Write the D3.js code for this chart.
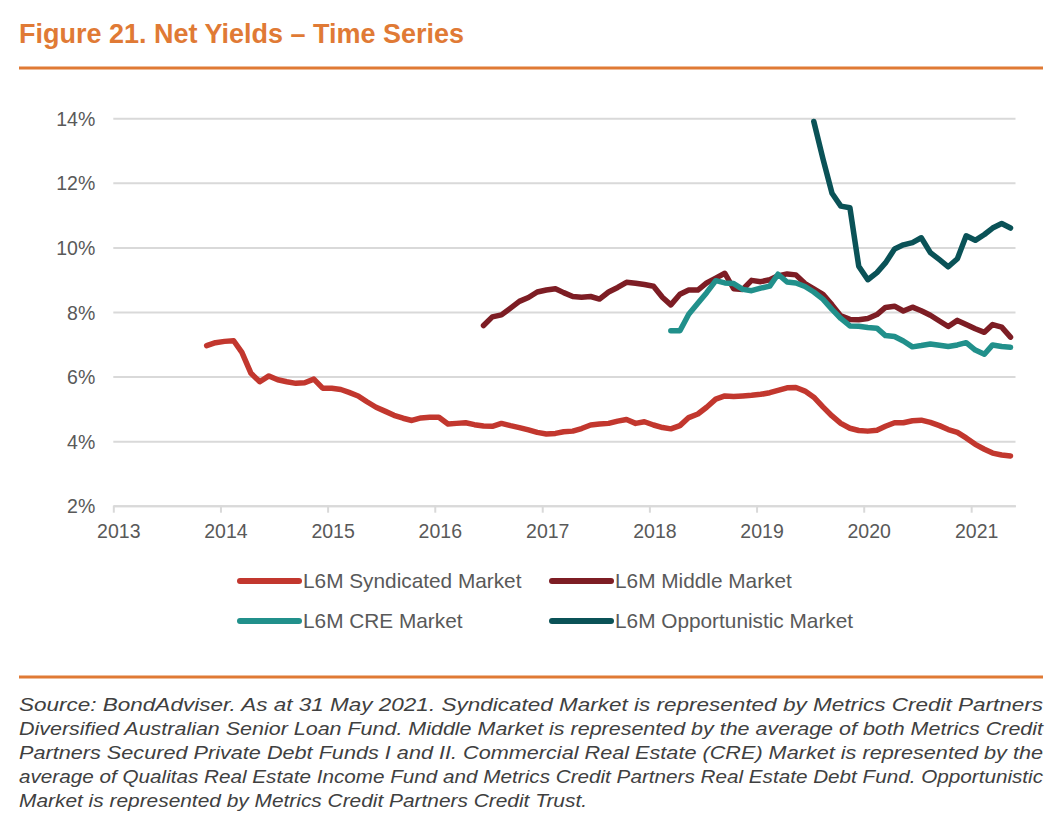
<!DOCTYPE html>
<html>
<head>
<meta charset="utf-8">
<script src="https://cdn.jsdelivr.net/npm/d3@7"></script>
<style>
  body { margin: 0; background: #fff; }
  svg { display: block; background: #fff; }
</style>
</head>
<body>
<svg width="1062" height="839"></svg>
<script>
// Monthly L6M net yields (%), each series starts at [year, month]
const syndicatedStart = [2013, 11];
const syndicated = [
  6.96, 7.05,
  7.09, 7.11, 6.75, 6.10, 5.84, 6.02, 5.90, 5.84, 5.79, 5.81, 5.92, 5.64,
  5.64, 5.60, 5.51, 5.40, 5.22, 5.05, 4.93, 4.80, 4.71, 4.64, 4.72, 4.74,
  4.74, 4.53, 4.55, 4.57, 4.51, 4.47, 4.46, 4.55, 4.48, 4.42, 4.35, 4.27,
  4.22, 4.24, 4.29, 4.31, 4.39, 4.50, 4.53, 4.55, 4.62, 4.67, 4.55, 4.60,
  4.50, 4.42, 4.38, 4.48, 4.73, 4.84, 5.05, 5.30, 5.40, 5.38, 5.40, 5.42,
  5.45, 5.50, 5.57, 5.65, 5.66, 5.55, 5.36, 5.06, 4.78, 4.55, 4.40, 4.33,
  4.31, 4.34, 4.46, 4.57, 4.57, 4.63, 4.65, 4.58, 4.48, 4.36, 4.27, 4.10,
  3.90, 3.75, 3.63, 3.57, 3.54
];

const middleStart = [2016, 6];
const middle = [
  7.58, 7.85, 7.91, 8.12, 8.33, 8.45, 8.62,
  8.68, 8.72, 8.60, 8.48, 8.46, 8.48, 8.40, 8.62, 8.76, 8.92, 8.89, 8.85,
  8.80, 8.45, 8.22, 8.55, 8.68, 8.68, 8.90, 9.05, 9.20, 8.72, 8.70, 8.98,
  8.94, 9.00, 9.12, 9.18, 9.15, 8.88, 8.72, 8.55, 8.22, 7.88, 7.77, 7.76,
  7.80, 7.92, 8.14, 8.18, 8.03, 8.15, 8.04, 7.90, 7.72, 7.55, 7.74, 7.61,
  7.48, 7.37, 7.61, 7.53, 7.22
];

const creStart = [2018, 3];
const cre = [
  7.42, 7.42, 7.93, 8.27, 8.60, 8.97, 8.90, 8.88, 8.70, 8.66,
  8.74, 8.80, 9.17, 8.93, 8.90, 8.79, 8.62, 8.40, 8.08, 7.80, 7.57, 7.56,
  7.52, 7.50, 7.27, 7.24, 7.10, 6.92, 6.96, 7.01, 6.97, 6.93, 6.98, 7.05,
  6.82, 6.69, 6.98, 6.93, 6.91
];

const opportunisticStart = [2019, 7];
const opportunistic = [
  13.90, 12.75, 11.68, 11.28, 11.23, 9.42,
  9.00, 9.22, 9.52, 9.95, 10.08, 10.15, 10.30, 9.84, 9.62, 9.40, 9.65, 10.36,
  10.22, 10.40, 10.60, 10.74, 10.60
];

const seriesNames = ["L6M Syndicated Market", "L6M Middle Market", "L6M CRE Market", "L6M Opportunistic Market"];
const seriesColors = ["#C2372E", "#7D1D24", "#21908B", "#0A5257"];
const yTicks = [2, 4, 6, 8, 10, 12, 14];
const yearTicks = [2013, 2014, 2015, 2016, 2017, 2018, 2019, 2020, 2021];

const footnote = [
  "Source: BondAdviser. As at 31 May 2021. Syndicated Market is represented by Metrics Credit Partners",
  "Diversified Australian Senior Loan Fund. Middle Market is represented by the average of both Metrics Credit",
  "Partners Secured Private Debt Funds I and II. Commercial Real Estate (CRE) Market is represented by the",
  "average of Qualitas Real Estate Income Fund and Metrics Credit Partners Real Estate Debt Fund. Opportunistic",
  "Market is represented by Metrics Credit Partners Credit Trust."
];

const orange = "#E07A35";
const grey = "#595959";
const sans = "'Liberation Sans', Arial, sans-serif";
const narrow = "'Liberation Sans Narrow', 'Arial Narrow', 'Liberation Sans', Arial, sans-serif";

// mid-month points (Excel date axis, "between tick marks")
function toPoints(start, values) {
  return values.map((v, i) => ({ date: new Date(start[0], start[1] - 1 + i, 15), value: v }));
}

const series = [
  toPoints(syndicatedStart, syndicated),
  toPoints(middleStart, middle),
  toPoints(creStart, cre),
  toPoints(opportunisticStart, opportunistic)
].map((pts, i) => ({ name: seriesNames[i], color: seriesColors[i], points: pts }));

const svg = d3.select("svg");
const margin = { top: 118.3, right: 46.5, bottom: 333.3, left: 113.3 };
const width = +svg.attr("width") - margin.left - margin.right;
const height = +svg.attr("height") - margin.top - margin.bottom;

// Title and rules
svg.append("text")
  .attr("x", 19).attr("y", 43)
  .attr("font-family", narrow).attr("font-weight", "bold").attr("font-size", 28)
  .attr("fill", orange)
  .attr("textLength", 445).attr("lengthAdjust", "spacingAndGlyphs")
  .text("Figure 21. Net Yields – Time Series");

svg.append("rect").attr("x", 19).attr("y", 66.5).attr("width", 1024).attr("height", 3).attr("fill", orange);
svg.append("rect").attr("x", 19).attr("y", 675.5).attr("width", 1024).attr("height", 3).attr("fill", orange);

const g = svg.append("g").attr("transform", `translate(${margin.left},${margin.top})`);

// Scales
const x = d3.scaleTime()
  .domain([new Date(2013, 0, 1), new Date(2021, 5, 1)])
  .range([0, width]);

const y = d3.scaleLinear()
  .domain([2, 14])
  .range([height, 0]);

// Gridlines + y labels
const yAxis = g.append("g")
  .call(d3.axisLeft(y).tickValues(yTicks).tickSize(-width).tickFormat(d => d + "%"));
yAxis.select(".domain").remove();
yAxis.selectAll("line").attr("stroke", "#D9D9D9").attr("stroke-width", 2);
yAxis.selectAll("text")
  .attr("x", -18).attr("dy", "0.36em")
  .attr("font-family", sans).attr("font-size", 19.5).attr("fill", grey);

// X axis
const xAxis = g.append("g")
  .attr("transform", `translate(0,${height})`)
  .call(d3.axisBottom(x)
    .tickValues(yearTicks.map(yr => new Date(yr, 0, 1)))
    .tickSize(7).tickSizeOuter(0)
    .tickFormat(d3.timeFormat("%Y")));
xAxis.select(".domain").attr("stroke", "#D9D9D9").attr("stroke-width", 2);
xAxis.selectAll("line").attr("stroke", "#D9D9D9").attr("stroke-width", 2);
xAxis.selectAll("text")
  .attr("x", 5).attr("y", 18.5).attr("dy", "0.71em")
  .attr("font-family", sans).attr("font-size", 19.5).attr("fill", grey);

// Lines
const line = d3.line().x(d => x(d.date)).y(d => y(d.value));

g.selectAll(".series")
  .data(series)
  .enter()
  .append("path")
  .attr("class", "series")
  .attr("d", d => line(d.points))
  .attr("fill", "none")
  .attr("stroke", d => d.color)
  .attr("stroke-width", 5.5)
  .attr("stroke-linejoin", "round")
  .attr("stroke-linecap", "round");

// Legend (2 x 2)
const legend = svg.append("g");
series.forEach((s, i) => {
  const lx = i % 2 === 0 ? 237 : 549;
  const ly = i < 2 ? 581 : 621;
  legend.append("line")
    .attr("x1", lx + 3).attr("x2", lx + 62).attr("y1", ly).attr("y2", ly)
    .attr("stroke", s.color).attr("stroke-width", 6).attr("stroke-linecap", "round");
  legend.append("text")
    .attr("x", lx + 66).attr("y", ly).attr("dy", "0.36em")
    .attr("font-family", sans).attr("font-size", 20.8).attr("fill", grey)
    .text(s.name);
});

// Footnote, justified
svg.append("g")
  .selectAll("text")
  .data(footnote)
  .enter()
  .append("text")
  .attr("x", 19)
  .attr("y", (d, i) => 711 + i * 24)
  .attr("font-family", narrow).attr("font-style", "italic").attr("font-size", 19)
  .attr("fill", "#404040")
  .attr("textLength", (d, i) => i < footnote.length - 1 ? 1024 : 568)
  .attr("lengthAdjust", "spacingAndGlyphs")
  .text(d => d);
</script>
</body>
</html>
